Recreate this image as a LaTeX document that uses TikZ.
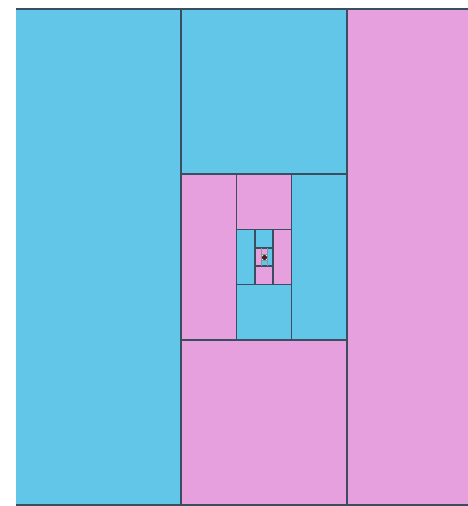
\documentclass[tikz,border=0pt]{standalone}
\usepackage{tikz}
\usetikzlibrary{calc}
\definecolor{skyblue}{RGB}{98,198,232}
\definecolor{orchid}{RGB}{230,160,222}
\definecolor{seam}{RGB}{58,78,96}
\tikzset{
	x=1pt, y=-1pt,
	edge/.style = {draw=seam, line width=1.7pt},
	thin edge/.style = {draw=seam!60, line width=0.7pt},
	blue tile/.style = {fill=skyblue},
	pink tile/.style = {fill=orchid},
	eye/.style = {fill=seam!70!red!60!black},
}

\begin{document}
\begin{tikzpicture}
	\useasboundingbox (0,0) rectangle (468,506);
	\clip (0,0) rectangle (468,506);
	% nested squares, each split in thirds: tiles first
	\foreach \k/\a/\b in {0/blue tile/pink tile, 1/pink tile/blue tile,
	                     2/blue tile/pink tile, 3/pink tile/blue tile} {
		\pgfmathsetmacro\s{496/3^\k}
		\pgfmathsetmacro\xo{264-\s/2}
		\pgfmathsetmacro\yo{257-\s/2}
		\fill[\a] (\xo,\yo) rectangle ++(\s/3,\s);
		\fill[\a] (\xo+\s/3,\yo) rectangle ++(\s/3,\s/3);
		\fill[\b] (\xo+2*\s/3,\yo) rectangle ++(\s/3,\s);
		\fill[\b] (\xo+\s/3,\yo+2*\s/3) rectangle ++(\s/3,\s/3);
	}
	% then the seams
	\foreach \k/\w in {0/edge,1/edge,2/edge,3/thin edge} {
		\pgfmathsetmacro\s{496/3^\k}
		\pgfmathsetmacro\xo{264-\s/2}
		\pgfmathsetmacro\yo{257-\s/2}
		\draw[\w] (\xo+\s/3,\yo) -- ++(0,\s);
		\draw[\w] (\xo+2*\s/3,\yo) -- ++(0,\s);
		\draw[\w] (\xo+\s/3,\yo+\s/3) -- ++(\s/3,0);
		\draw[\w] (\xo+\s/3,\yo+2*\s/3) -- ++(\s/3,0);
	}
	% outer frame, top and bottom
	\draw[edge] (16,9) -- (468,9);
	\draw[edge] (16,505) -- (468,505);
	% centre point
	\fill[eye] (264.5,257.5) circle (2.6);
\end{tikzpicture}
\end{document}
